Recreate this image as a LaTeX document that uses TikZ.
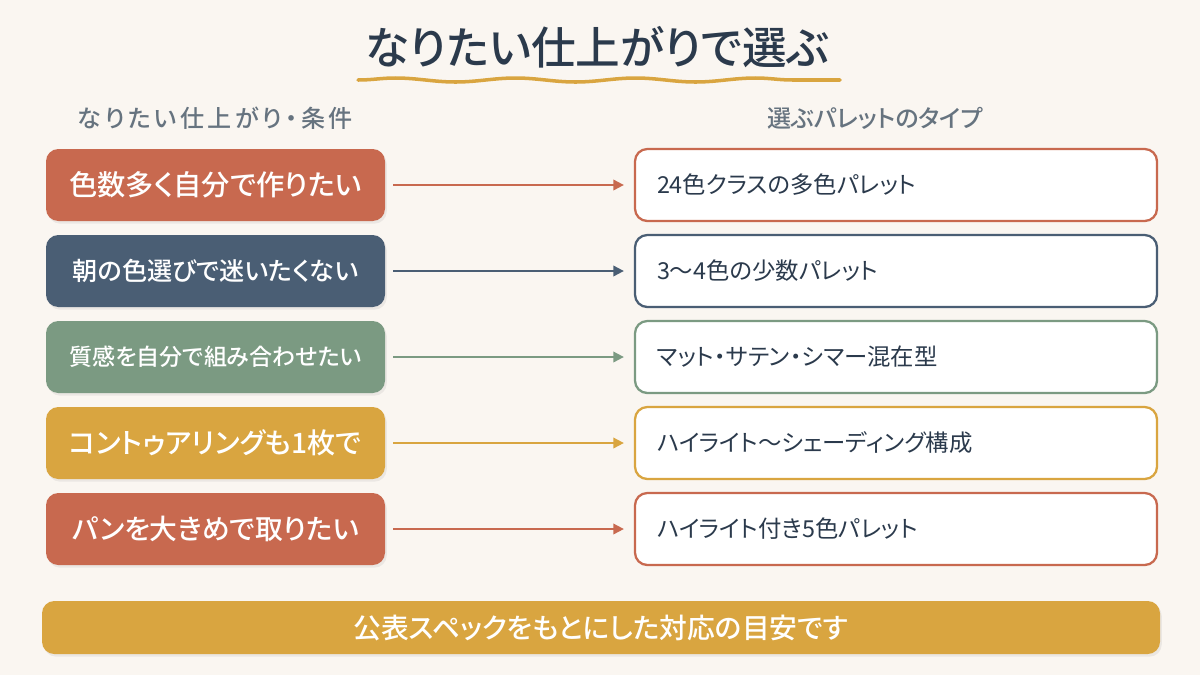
\documentclass[tikz,border=0pt]{standalone}
\usepackage{fontspec}
\setmainfont{Noto Sans CJK JP}[RawFeature=+palt, BoldFont={Noto Sans CJK JP Medium}]
\usepackage{xcolor}
\definecolor{pgbg}{HTML}{FAF6F1}
\definecolor{pgink}{HTML}{2B3A4C}
\definecolor{pghead}{HTML}{66737F}
\definecolor{pgterra}{HTML}{C8694F}
\definecolor{pgslate}{HTML}{4A5E74}
\definecolor{pgsage}{HTML}{7B9A82}
\definecolor{pgmustard}{HTML}{D9A540}
\usetikzlibrary{arrows.meta,positioning,decorations.pathmorphing,shadows}

\begin{document}
\begin{tikzpicture}[
  wishbox/.style={
    rectangle, rounded corners=7pt,
    minimum width=6.78cm, minimum height=1.44cm,
    draw=none, text=white, align=center,
    drop shadow={opacity=0.12, shadow xshift=1pt, shadow yshift=-1.5pt}
  },
  palbox/.style={
    rectangle, rounded corners=7pt,
    minimum width=10.44cm, minimum height=1.44cm,
    inner xsep=0.44cm, text width=9.56cm,
    fill=white, line width=1.3pt,
    align=left, text=pgink,
    font=\fontsize{13.3}{15}\selectfont
  },
  colhead/.style={font=\fontsize{13.7}{16}\selectfont\bfseries, text=pghead},
  conn/.style={-{Triangle[length=6pt,width=6pt]}, line width=1.1pt,
    shorten <=0.16cm, shorten >=0.2cm}
]
\fill[pgbg] (0,0) rectangle (24,-13.5);
\useasboundingbox (0,0) rectangle (24,-13.5);

\node[font=\fontsize{25.4}{30}\selectfont\bfseries, text=pgink] (title) at (11.95,-0.94)
  {なりたい仕上がりで選ぶ};
\draw[pgmustard, line width=2pt, line cap=round,
  decorate, decoration={snake, amplitude=0.04cm, segment length=2.4cm}]
  (7.16,-1.6) -- (16.8,-1.6);

\node[colhead] (lhead) at (4.3,-2.36)
  {\addfontfeature{LetterSpace=14}なりたい仕上がり・条件};
\node[colhead] (rhead) at (17.5,-2.36) {選ぶパレットのタイプ};

\node[wishbox, fill=pgterra, font=\fontsize{16.1}{18}\selectfont\bfseries] (w1) at (4.31,-3.70)
  {色数多く自分で作りたい};
\node[wishbox, fill=pgslate, font=\fontsize{14.3}{16}\selectfont\bfseries] (w2) at (4.31,-5.42)
  {朝の色選びで迷いたくない};
\node[wishbox, fill=pgsage, font=\fontsize{13.1}{15}\selectfont\bfseries] (w3) at (4.31,-7.14)
  {質感を自分で組み合わせたい};
\node[wishbox, fill=pgmustard, font=\fontsize{16}{18}\selectfont\bfseries] (w4) at (4.31,-8.86)
  {コントゥアリングも1枚で};
\node[wishbox, fill=pgterra, font=\fontsize{15.8}{18}\selectfont\bfseries] (w5) at (4.31,-10.58)
  {パンを大きめで取りたい};

\node[palbox, draw=pgterra] (p1) at (17.92,-3.70) {24色クラスの多色パレット};
\node[palbox, draw=pgslate] (p2) at (17.92,-5.42) {3〜4色の少数パレット};
\node[palbox, draw=pgsage] (p3) at (17.92,-7.14) {マット・サテン・シマー混在型};
\node[palbox, draw=pgmustard] (p4) at (17.92,-8.86) {ハイライト〜シェーディング構成};
\node[palbox, draw=pgterra] (p5) at (17.92,-10.58) {ハイライト付き5色パレット};

\draw[conn, draw=pgterra] (w1) -- (p1);
\draw[conn, draw=pgslate] (w2) -- (p2);
\draw[conn, draw=pgsage] (w3) -- (p3);
\draw[conn, draw=pgmustard] (w4) -- (p4);
\draw[conn, draw=pgterra] (w5) -- (p5);

\node[rectangle, rounded corners=7pt, minimum width=22.36cm, minimum height=1.06cm,
  fill=pgmustard, text=white, font=\fontsize{15.8}{18}\selectfont\bfseries,
  drop shadow={opacity=0.12, shadow xshift=1pt, shadow yshift=-1.5pt}] (note) at (12.02,-12.55)
  {公表スペックをもとにした対応の目安です};
\end{tikzpicture}
\end{document}
